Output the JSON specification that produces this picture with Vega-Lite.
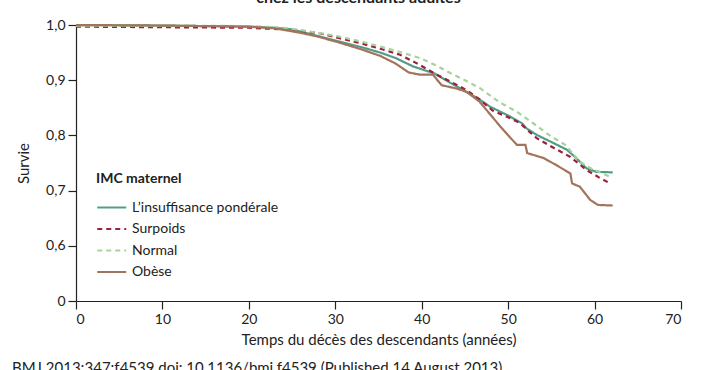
{
  "$schema": "https://vega.github.io/schema/vega-lite/v6.json",
  "width": 605,
  "height": 276,
  "autosize": {"type": "none"},
  "padding": {"left": 76, "top": 25, "right": 21, "bottom": 69},
  "background": "white",
  "config": {
    "font": "Lato",
    "view": {"stroke": null},
    "axis": {"grid": false, "domainColor": "#222", "tickColor": "#222", "labelColor": "#222", "titleColor": "#222", "labelFont": "Lato", "titleFont": "Lato", "labelFontSize": 14, "titleFontSize": 15, "titleFontWeight": "normal", "tickSize": 8, "domainWidth": 1.2, "tickWidth": 1.2}
  },
  "title": {
    "text": "BMJ 2013;347:f4539 doi: 10.1136/bmj.f4539 (Published 14 August 2013)",
    "orient": "bottom", "anchor": "start", "frame": "group",
    "dx": -64, "offset": 14, "fontSize": 15, "fontWeight": "normal", "font": "Lato", "color": "#222"
  },
  "data": {"values": [
    {"g": "L’insuffisance pondérale", "t": 0, "s": 1.0},
    {"g": "L’insuffisance pondérale", "t": 10, "s": 0.999},
    {"g": "L’insuffisance pondérale", "t": 20, "s": 0.997},
    {"g": "L’insuffisance pondérale", "t": 23, "s": 0.995},
    {"g": "L’insuffisance pondérale", "t": 25, "s": 0.992},
    {"g": "L’insuffisance pondérale", "t": 26, "s": 0.988},
    {"g": "L’insuffisance pondérale", "t": 28, "s": 0.980},
    {"g": "L’insuffisance pondérale", "t": 30.5, "s": 0.970},
    {"g": "L’insuffisance pondérale", "t": 33, "s": 0.960},
    {"g": "L’insuffisance pondérale", "t": 35.2, "s": 0.950},
    {"g": "L’insuffisance pondérale", "t": 37, "s": 0.940},
    {"g": "L’insuffisance pondérale", "t": 39, "s": 0.925},
    {"g": "L’insuffisance pondérale", "t": 41.5, "s": 0.912},
    {"g": "L’insuffisance pondérale", "t": 43, "s": 0.898},
    {"g": "L’insuffisance pondérale", "t": 44.8, "s": 0.882},
    {"g": "L’insuffisance pondérale", "t": 46.5, "s": 0.867},
    {"g": "L’insuffisance pondérale", "t": 47.9, "s": 0.852},
    {"g": "L’insuffisance pondérale", "t": 50, "s": 0.836},
    {"g": "L’insuffisance pondérale", "t": 51.6, "s": 0.822},
    {"g": "L’insuffisance pondérale", "t": 52.1, "s": 0.813},
    {"g": "L’insuffisance pondérale", "t": 53.3, "s": 0.801},
    {"g": "L’insuffisance pondérale", "t": 55, "s": 0.788},
    {"g": "L’insuffisance pondérale", "t": 56.8, "s": 0.774},
    {"g": "L’insuffisance pondérale", "t": 57.8, "s": 0.760},
    {"g": "L’insuffisance pondérale", "t": 59.1, "s": 0.740},
    {"g": "L’insuffisance pondérale", "t": 60.2, "s": 0.734},
    {"g": "L’insuffisance pondérale", "t": 62.1, "s": 0.733},
    {"g": "Surpoids", "t": 0, "s": 0.997},
    {"g": "Surpoids", "t": 10, "s": 0.996},
    {"g": "Surpoids", "t": 20, "s": 0.995},
    {"g": "Surpoids", "t": 24, "s": 0.992},
    {"g": "Surpoids", "t": 26, "s": 0.989},
    {"g": "Surpoids", "t": 28.2, "s": 0.985},
    {"g": "Surpoids", "t": 30.5, "s": 0.976},
    {"g": "Surpoids", "t": 32.9, "s": 0.967},
    {"g": "Surpoids", "t": 35.2, "s": 0.957},
    {"g": "Surpoids", "t": 37.5, "s": 0.946},
    {"g": "Surpoids", "t": 39.5, "s": 0.930},
    {"g": "Surpoids", "t": 41.5, "s": 0.912},
    {"g": "Surpoids", "t": 43.5, "s": 0.896},
    {"g": "Surpoids", "t": 45.2, "s": 0.882},
    {"g": "Surpoids", "t": 46.8, "s": 0.864},
    {"g": "Surpoids", "t": 48.2, "s": 0.845},
    {"g": "Surpoids", "t": 50, "s": 0.833},
    {"g": "Surpoids", "t": 51.4, "s": 0.822},
    {"g": "Surpoids", "t": 52.5, "s": 0.806},
    {"g": "Surpoids", "t": 53.3, "s": 0.795},
    {"g": "Surpoids", "t": 55.2, "s": 0.778},
    {"g": "Surpoids", "t": 57.2, "s": 0.761},
    {"g": "Surpoids", "t": 59.1, "s": 0.737},
    {"g": "Surpoids", "t": 60.5, "s": 0.724},
    {"g": "Surpoids", "t": 61.8, "s": 0.713},
    {"g": "Normal", "t": 0, "s": 0.999},
    {"g": "Normal", "t": 10, "s": 0.999},
    {"g": "Normal", "t": 20, "s": 0.998},
    {"g": "Normal", "t": 24, "s": 0.995},
    {"g": "Normal", "t": 25.9, "s": 0.991},
    {"g": "Normal", "t": 28, "s": 0.986},
    {"g": "Normal", "t": 30.5, "s": 0.979},
    {"g": "Normal", "t": 33, "s": 0.970},
    {"g": "Normal", "t": 35.2, "s": 0.961},
    {"g": "Normal", "t": 37.5, "s": 0.951},
    {"g": "Normal", "t": 39.8, "s": 0.940},
    {"g": "Normal", "t": 41.5, "s": 0.928},
    {"g": "Normal", "t": 43.3, "s": 0.913},
    {"g": "Normal", "t": 45, "s": 0.900},
    {"g": "Normal", "t": 46.7, "s": 0.886},
    {"g": "Normal", "t": 49, "s": 0.860},
    {"g": "Normal", "t": 51, "s": 0.843},
    {"g": "Normal", "t": 52.9, "s": 0.822},
    {"g": "Normal", "t": 54.8, "s": 0.800},
    {"g": "Normal", "t": 56.6, "s": 0.783},
    {"g": "Normal", "t": 58.3, "s": 0.752},
    {"g": "Normal", "t": 59.5, "s": 0.741},
    {"g": "Normal", "t": 61.8, "s": 0.725},
    {"g": "Obèse", "t": 0, "s": 1.0},
    {"g": "Obèse", "t": 10, "s": 0.999},
    {"g": "Obèse", "t": 20, "s": 0.997},
    {"g": "Obèse", "t": 23, "s": 0.994},
    {"g": "Obèse", "t": 25.9, "s": 0.986},
    {"g": "Obèse", "t": 28, "s": 0.979},
    {"g": "Obèse", "t": 30.5, "s": 0.968},
    {"g": "Obèse", "t": 33, "s": 0.956},
    {"g": "Obèse", "t": 35.2, "s": 0.944},
    {"g": "Obèse", "t": 37, "s": 0.930},
    {"g": "Obèse", "t": 38.5, "s": 0.914},
    {"g": "Obèse", "t": 39.8, "s": 0.910},
    {"g": "Obèse", "t": 41.3, "s": 0.910},
    {"g": "Obèse", "t": 42.3, "s": 0.891},
    {"g": "Obèse", "t": 44, "s": 0.885},
    {"g": "Obèse", "t": 45.2, "s": 0.879},
    {"g": "Obèse", "t": 46.7, "s": 0.861},
    {"g": "Obèse", "t": 49.1, "s": 0.816},
    {"g": "Obèse", "t": 51.0, "s": 0.783},
    {"g": "Obèse", "t": 52.0, "s": 0.783},
    {"g": "Obèse", "t": 52.2, "s": 0.768},
    {"g": "Obèse", "t": 54.1, "s": 0.759},
    {"g": "Obèse", "t": 55.6, "s": 0.746},
    {"g": "Obèse", "t": 57.2, "s": 0.731},
    {"g": "Obèse", "t": 57.4, "s": 0.713},
    {"g": "Obèse", "t": 58.3, "s": 0.707},
    {"g": "Obèse", "t": 59.5, "s": 0.683},
    {"g": "Obèse", "t": 60.4, "s": 0.674},
    {"g": "Obèse", "t": 62.1, "s": 0.673}
  ]},
  "encoding": {
    "y": {
      "field": "s", "type": "quantitative",
      "scale": {"domain": [0.5, 1.0], "nice": false, "zero": false},
      "axis": {
        "title": "Survie", "values": [0.5, 0.6, 0.7, 0.8, 0.9, 1.0],
        "labelExpr": "datum.value < 0.55 ? '0' : replace(format(datum.value, '.1f'), '.', ',')",
        "labelPadding": 3, "titlePadding": 14
      }
    }
  },
  "layer": [
    {
      "mark": {"type": "line", "strokeWidth": 2.2},
      "encoding": {
        "x": {
          "field": "t", "type": "quantitative",
          "scale": {"domain": [0, 70], "nice": false},
          "axis": {"title": "Temps du décès des descendants (années)", "values": [0, 10, 20, 30, 40, 50, 60, 70], "labelPadding": 3, "titlePadding": 6}
        },
        "color": {
          "field": "g", "type": "nominal",
          "scale": {"domain": ["L’insuffisance pondérale", "Surpoids", "Normal", "Obèse"], "range": ["#529c89", "#a01f3c", "#a6d39a", "#a2745b"]},
          "legend": {"orient": "none", "legendX": 20, "legendY": 147, "title": "IMC maternel", "titleFontSize": 14, "titleFontWeight": "bold", "titleFont": "Lato", "titleColor": "#222", "labelFontSize": 14, "labelFont": "Lato", "labelColor": "#222", "symbolType": "M-1,0H3", "symbolSize": 210, "symbolStrokeWidth": 2.2, "labelOffset": 19, "rowPadding": 5.5, "titlePadding": 13}
        },
        "strokeDash": {
          "field": "g", "type": "nominal",
          "scale": {"domain": ["L’insuffisance pondérale", "Surpoids", "Normal", "Obèse"], "range": [[1, 0], [5, 4], [5, 4], [1, 0]]},
          "legend": {"orient": "none", "legendX": 20, "legendY": 147, "title": "IMC maternel", "titleFontSize": 14, "titleFontWeight": "bold", "titleFont": "Lato", "titleColor": "#222", "labelFontSize": 14, "labelFont": "Lato", "labelColor": "#222", "symbolType": "M-1,0H3", "symbolSize": 210, "symbolStrokeWidth": 2.2, "labelOffset": 19, "rowPadding": 5.5, "titlePadding": 13}
        }
      }
    },
    {
      "mark": {"type": "line", "opacity": 0},
      "encoding": {
        "x": {
          "field": "t", "type": "quantitative",
          "axis": {"orient": "top", "title": "chez les descendants adultes", "ticks": false, "labels": false, "domain": false, "titleFontWeight": "bold", "titleFontSize": 16, "titlePadding": 20, "titleX": 282}
        }
      }
    }
  ],
  "resolve": {"axis": {"x": "independent"}}
}
